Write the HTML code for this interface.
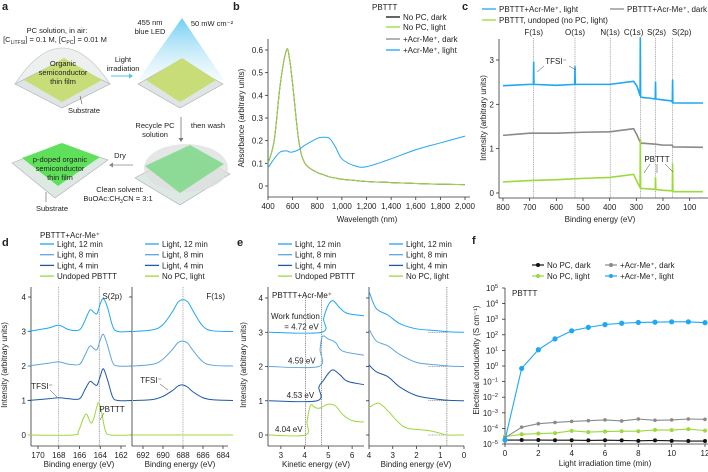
<!DOCTYPE html>
<html><head><meta charset="utf-8"><style>
html,body{margin:0;padding:0;background:#fff;}
svg{display:block;font-family:"Liberation Sans",Arial,sans-serif;}
text{fill:#222;}
</style></head><body>
<svg id="fig" width="708" height="472" viewBox="0 0 708 472" xmlns="http://www.w3.org/2000/svg">
<defs>
<linearGradient id="cone" x1="0" y1="0" x2="0" y2="1"><stop offset="0" stop-color="#5fc8f0" stop-opacity="0.9"/><stop offset="1" stop-color="#d8f0fb" stop-opacity="0.3"/></linearGradient>
</defs>
<g font-size="7.5" text-anchor="middle">
<text x="2" y="10" font-size="11" font-weight="bold" text-anchor="start">a</text>
<path d="M15,84 Q62,12 110,84 Z" fill="#eef0ef" stroke="#c8cbc9" stroke-width="0.8"/>
<polygon points="15,84 62,60 110,84 62,108" fill="#dfe5e2" stroke="#aab" stroke-width="0.6"/>
<polygon points="24,80 64,58 102,80 62,102" fill="#c8dc78"/>
<text x="57" y="33">PC solution, in air:</text>
<text x="55" y="42">[C<tspan font-size="5" dy="2">LiTFSI</tspan><tspan dy="-2">] = 0.1 M, [C</tspan><tspan font-size="5" dy="2">PC</tspan><tspan dy="-2">] = 0.01 M</tspan></text>
<text x="63" y="66">Organic</text>
<text x="63" y="75">semiconductor</text>
<text x="63" y="84">thin film</text>
<line x1="80" y1="96" x2="82" y2="104" stroke="#555" stroke-width="0.6"/>
<text x="84" y="113">Substrate</text>
<text x="123" y="62">Light</text>
<text x="123" y="71">irradiation</text>
<line x1="111" y1="76" x2="129" y2="76" stroke="#4cc3ea" stroke-width="1"/>
<polygon points="129,73.5 133,76 129,78.5" fill="#4cc3ea"/>
<polygon points="182,18 138,80 224,80" fill="url(#cone)"/>
<polygon points="138,84 180,60 223,84 180,108" fill="#dfe5e2" stroke="#aab" stroke-width="0.6"/>
<polygon points="146,80 182,58 216,80 180,102" fill="#c8dc78"/>
<text x="150" y="25">455 nm</text>
<text x="150" y="34">blue LED</text>
<text x="212" y="26">50 mW cm⁻²</text>
<text x="155" y="128">Recycle PC</text>
<text x="155" y="137">solution</text>
<text x="208" y="128">then wash</text>
<line x1="181" y1="117" x2="181" y2="138" stroke="#777" stroke-width="0.8"/>
<polygon points="178.5,138 181,142 183.5,138" fill="#777"/>
<polygon points="135,178 185,150 230,174 180,205" fill="#dfe9e4" stroke="#aab" stroke-width="0.6"/>
<ellipse cx="186" cy="168" rx="42" ry="24" fill="#dcdedd" opacity="0.75"/>
<polygon points="145,166 190,145 224,164 180,193" fill="#7fd88a" opacity="0.85"/>
<text x="120" y="158">Dry</text>
<line x1="133" y1="165" x2="113" y2="165" stroke="#888" stroke-width="0.8"/>
<polygon points="113,162.5 109,165 113,167.5" fill="#888"/>
<polygon points="12,163 60,144 108,160 55,198" fill="#dfe9e4" stroke="#aab" stroke-width="0.6"/>
<polygon points="22,158 62,143 100,157 58,186" fill="#5fe05a"/>
<text x="60" y="162">p-doped organic</text>
<text x="60" y="171">semiconductor</text>
<text x="60" y="180">thin film</text>
<line x1="46" y1="192" x2="46" y2="202" stroke="#555" stroke-width="0.6"/>
<text x="52" y="211">Substrate</text>
<text x="120" y="192">Clean solvent:</text>
<text x="118" y="201">BuOAc:CH<tspan font-size="5" dy="2">3</tspan><tspan dy="-2">CN = 3:1</tspan></text>
</g>
<g id="charts"></g>
</svg>
<script>
// ---------- Panel b data ----------
const bWave = [400,450,500,550,575,600,650,700,800,850,900,950,1000,1100,1200,1400,1600,1800,2000];
const bNoPC = [0.1,0.2,0.45,0.6,0.56,0.45,0.2,0.1,0.06,0.05,0.04,0.035,0.03,0.025,0.02,0.015,0.011,0.008,0.006];
const bAcrLight = [0.08,0.12,0.15,0.155,0.15,0.15,0.16,0.18,0.21,0.215,0.21,0.17,0.12,0.09,0.085,0.12,0.16,0.19,0.22];
const bYTicks = [0,0.1,0.2,0.3,0.4,0.5,0.6];
const bXTicks = [400,600,800,1000,1200,1400,1600,1800,2000];
const bXLabels = ["400","600","800","1,000","1,200","1,400","1,600","1,800","2,000"];
// ---------- Panel c data ----------
const cBlueX = [800,700,686,685,684,600,531,530,529,400,310,297,286,285,284,283,270,250,229,228,227,200,170,165,164,163,150,50];
const cBlueY = [2.42,2.45,2.45,2.95,2.45,2.43,2.45,2.85,2.45,2.45,2.52,2.4,2.2,3.5,2.2,2.16,2.15,2.14,2.12,2.5,2.12,2.1,2.08,2.05,2.55,2.03,2.03,2.03];
const cGrayX = [800,700,600,500,400,310,297,286,285,284,270,228,200,165,164,163,50];
const cGrayY = [1.3,1.35,1.35,1.37,1.38,1.45,1.3,1.15,1.2,1.12,1.12,1.1,1.08,1.08,1.05,1.04,1.03];
const cGreenX = [800,700,600,500,400,310,297,286,285,284,283,270,229,228,227,200,165,164,163,50];
const cGreenY = [0.25,0.28,0.3,0.33,0.35,0.42,0.25,0.12,1.2,0.12,0.1,0.1,0.08,0.35,0.08,0.06,0.05,0.65,0.03,0.03];
const cPeakE = [685,530,398,284,228,164];
const cPeakLabels = ["F(1s)","O(1s)","N(1s)","C(1s)","S(2s)","S(2p)"];
const cXTicks = [800,700,600,500,400,300,200,100];
const cYTicks = [0,1,2,3];
// ---------- Panel d data ----------
const dSX = [171,169,168,167,166,165.5,165,164.6,164.3,164,163.7,163.3,162.8,162.3,161];
const dS12 = [3.0,3.1,3.18,3.05,3.05,3.3,3.62,3.55,3.52,3.8,3.95,3.7,3.15,3.0,3.0];
const dS8 = [2.0,2.08,2.12,2.05,2.05,2.3,2.58,2.5,2.48,2.75,2.92,2.6,2.1,2.0,2.0];
const dS4 = [1.0,1.05,1.08,1.05,1.05,1.3,1.55,1.48,1.45,1.7,1.92,1.6,1.1,1.0,1.0];
const dSUndX = [171,166.6,166.1,165.6,165.3,164.9,164.6,164.2,163.9,163.5,163.0,161];
const dSUnd = [0,0,0.12,0.5,0.6,0.35,0.5,0.93,0.7,0.12,0,0];
const dFX = [693,691,690,689,688.5,688,687.5,687,686,685,683];
const dF12 = [3.0,3.05,3.2,3.6,3.85,3.92,3.85,3.6,3.15,3.02,3.0];
const dF8 = [2.0,2.05,2.2,2.5,2.68,2.72,2.65,2.45,2.12,2.02,2.0];
const dF4 = [1.0,1.03,1.12,1.3,1.42,1.45,1.38,1.25,1.08,1.02,1.0];
const dFUnd = [0,0,0,0,0,0,0,0,0,0,0];
const dSXTicks = [170,168,166,164,162];
const dFXTicks = [692,690,688,686,684];
const dYTicks = [0,1,2,3,4];
// ---------- Panel e data ----------
const eK12X = [2.5,4.72,4.8,5.0,5.2,5.5,5.8,6.5];
const eK12 = [3,3,3.4,3.8,3.92,3.7,3.55,3.48];
const eK8X = [2.5,4.59,4.65,4.75,5.0,5.3,5.6,6.5];
const eK8 = [2,2,2.5,2.88,2.8,2.7,2.45,2.33];
const eK4X = [2.5,4.53,4.6,4.8,5.0,5.2,5.5,5.8,6.5];
const eK4 = [1,1,1.4,1.6,1.8,1.9,1.75,1.57,1.47];
const eKUX = [2.5,4.04,4.1,4.25,4.4,4.6,5.0,5.3,5.6,6.0,6.5];
const eKU = [0,0,0.4,0.87,0.82,0.78,0.9,0.85,0.6,0.42,0.38];
const eBX = [4,3.7,3.2,2.7,2.0,1.2,0.6,0];
const eB12 = [4.2,3.7,3.5,3.25,3.1,3.05,3.01,3.0];
const eB8 = [3.1,2.75,2.6,2.35,2.12,2.05,2.01,2.0];
const eB4 = [2.05,1.85,1.7,1.4,1.15,1.05,1.01,1.0];
const eBUX = [4,3.6,3.2,2.8,2.4,1.5,1.0,0.7,0];
const eBU = [0.8,0.93,0.7,0.4,0.2,0.13,0.05,0,0];
const eWork = [4.04,4.53,4.59,4.72];
const eWorkLabels = ["4.04 eV","4.53 eV","4.59 eV","= 4.72 eV"];
const eKTicks = [3,4,5,6];
const eBTicks = [4,3,2,1,0];
// ---------- Panel f data ----------
const fTime = [0,1,2,3,4,5,6,7,8,9,10,11,12];
const fNoPCDark = [1.8e-5,1.8e-5,1.8e-5,1.75e-5,1.75e-5,1.7e-5,1.75e-5,1.7e-5,1.6e-5,1.7e-5,1.6e-5,1.55e-5,1.55e-5];
const fNoPCLight = [3e-5,4.2e-5,4.7e-5,5e-5,7e-5,5.8e-5,6.3e-5,6.6e-5,6.6e-5,8e-5,7.8e-5,9e-5,7.2e-5];
const fAcrDark = [2.5e-5,1.2e-4,2e-4,2.4e-4,2.8e-4,3.1e-4,3.5e-4,3e-4,4e-4,3.3e-4,3.5e-4,4e-4,3.8e-4];
const fAcrLight = [1.8e-5,0.7,11,55,180,300,450,550,620,640,680,680,600];
const fXTicks = [0,2,4,6,8,10,12];
const fYExp = [-5,-4,-3,-2,-1,0,1,2,3,4,5];

const NS = "http://www.w3.org/2000/svg";
const root = document.getElementById('charts');
const BLUE="#1ea7f5", MID="#5da6de", DARK="#1f58a6", GREEN="#9bd93c", GRAY="#8a8a8a";
function lin(d0,d1,r0,r1){return v=>r0+(v-d0)*(r1-r0)/(d1-d0);}
function add(tag, attrs, name, txt){
  const el=document.createElementNS(NS,tag);
  for(const k in attrs) el.setAttribute(k,attrs[k]);
  
  
  if(txt!==undefined) el.textContent=txt;
  root.appendChild(el);
  return el;
}
function smooth(pts){
  let d="M"+pts[0][0].toFixed(2)+","+pts[0][1].toFixed(2);
  for(let i=0;i<pts.length-1;i++){
    const p0=pts[i-1]||pts[i],p1=pts[i],p2=pts[i+1],p3=pts[i+2]||p2;
    const c1=[p1[0]+(p2[0]-p0[0])/6,p1[1]+(p2[1]-p0[1])/6];
    const c2=[p2[0]-(p3[0]-p1[0])/6,p2[1]-(p3[1]-p1[1])/6];
    d+="C"+c1[0].toFixed(2)+","+c1[1].toFixed(2)+" "+c2[0].toFixed(2)+","+c2[1].toFixed(2)+" "+p2[0].toFixed(2)+","+p2[1].toFixed(2);
  }
  return d;
}
function series(xs,ys,sx,sy,color,name,w,sm){
  const pts=xs.map((x,i)=>[sx(x),sy(ys[i])]);
  const d= sm? smooth(pts) : "M"+pts.map(p=>p[0].toFixed(2)+","+p[1].toFixed(2)).join("L");
  return add('path',{d:d,fill:'none',stroke:color,'stroke-width':w||1,'stroke-linejoin':'round'},name);
}
function txt(x,y,s,name,o){
  o=o||{};
  const a={x:x,y:y,'font-size':o.fs||8,'text-anchor':o.anchor||'middle'};
  if(o.rot) a.transform='rotate(-90 '+x+' '+y+')';
  if(o.bold) a['font-weight']='bold';
  return add('text',a,name,s);
}
function line(x1,y1,x2,y2,color,name,w,dash){
  const a={x1:x1,y1:y1,x2:x2,y2:y2,stroke:color,'stroke-width':w||0.8};
  if(dash) a['stroke-dasharray']=dash;
  return add('line',a,name);
}
function yAxis(x,yTop,yBot,ticks,sy,labels,name){
  line(x,yTop,x,yBot,'#333',name+'-line');
  ticks.forEach((t,i)=>{line(x-3,sy(t),x,sy(t),'#333',name+'-tick');
    if(labels) txt(x-5,sy(t)+3,labels[i],name+'-tick-label',{anchor:'end'});});
}
function xAxis(y,x0,x1,ticks,sx,labels,name){
  line(x0,y,x1,y,'#333',name+'-line');
  ticks.forEach((t,i)=>{line(sx(t),y,sx(t),y+3,'#333',name+'-tick');
    if(labels) txt(sx(t),y+12,labels[i],name+'-tick-label');});
}
function legendLine(x,y,color,label,name,w){
  line(x,y,x+14,y,color,name+'-swatch',w||1.3);
  txt(x+17,y+3,label,name+'-label',{anchor:'start'});
}

// ===== Panel b =====
{
  const sx=lin(400,2000,268,465), sy=lin(0,0.6,186,50);
  txt(233,10,'b','panel-label-b',{fs:11,bold:1,anchor:'start'});
  yAxis(268,39,197,bYTicks,sy,bYTicks.map(String),'b-y-axis');
  xAxis(197,268,470,bXTicks,sx,bXLabels,'b-x-axis');
  txt(367,222,'Wavelength (nm)','b-x-axis-title');
  txt(244,118,'Absorbance (arbitrary units)','b-y-axis-title',{rot:1});
  series(bWave,bNoPC,sx,sy,'#222','b-line-no-pc-dark',1,1);
  series(bWave,bNoPC,sx,sy,GRAY,'b-line-acr-dark',1,1);
  series(bWave,bNoPC,sx,sy,GREEN,'b-line-no-pc-light',0.9,1);
  series(bWave,bAcrLight,sx,sy,BLUE,'b-line-acr-light',1,1);
  txt(372,10,'PBTTT','b-legend-title',{anchor:'start'});
  legendLine(386,17,'#111','No PC, dark','b-legend-no-pc-dark');
  legendLine(386,27,GREEN,'No PC, light','b-legend-no-pc-light');
  legendLine(386,39,GRAY,'+Acr-Me⁺, dark','b-legend-acr-dark');
  legendLine(386,50,BLUE,'+Acr-Me⁺, light','b-legend-acr-light');
}
// ===== Panel c =====
{
  const sx=lin(800,50,503,703), sy=lin(0,3,193,60);
  const labelShift=[0,0,0,-7,1,9];
  txt(462,10,'c','panel-label-c',{fs:11,bold:1,anchor:'start'});
  cPeakE.forEach((e,i)=>{line(sx(e),38,sx(e),198,'#777','c-peak-line',0.6,'1,0.8');
    txt(sx(e)+labelShift[i],35,cPeakLabels[i],'c-peak-label');});
  yAxis(499,39,198,cYTicks,sy,cYTicks.map(String),'c-y-axis');
  xAxis(198,499,708,cXTicks,sx,cXTicks.map(String),'c-x-axis');
  txt(600,222,'Binding energy (eV)','c-x-axis-title');
  txt(486,118,'Intensity (arbitrary units)','c-y-axis-title',{rot:1});
  series(cGrayX,cGrayY,sx,sy,GRAY,'c-line-acr-dark',1.6);
  series(cGreenX,cGreenY,sx,sy,GREEN,'c-line-undoped',1.6);
  series(cBlueX,cBlueY,sx,sy,BLUE,'c-line-acr-light',1.6);
  txt(556,64,'TFSI⁻','c-tfsi-label');
  line(544,66,537,72,'#444','c-tfsi-leader',0.5);
  line(569,66,576,70,'#444','c-tfsi-leader',0.5);
  txt(657,162,'PBTTT','c-pbttt-label');
  line(650,164,644,173,'#444','c-pbttt-leader',0.5);
  line(657,164,657,173,'#444','c-pbttt-leader',0.5);
  line(665,164,673,172,'#444','c-pbttt-leader',0.5);
  legendLine(482,9,BLUE,'PBTTT+Acr-Me⁺, light','c-legend-acr-light');
  legendLine(610,9,GRAY,'PBTTT+Acr-Me⁺, dark','c-legend-acr-dark');
  legendLine(482,20,GREEN,'PBTTT, undoped (no PC, light)','c-legend-undoped');
}
// ===== Panel d =====
{
  const sxS=lin(170,162,38,121), sxF=lin(692,684,143,223), sy=lin(0,4,435,297);
  txt(2,246,'d','panel-label-d',{fs:11,bold:1,anchor:'start'});
  txt(40,238,'PBTTT+Acr-Me⁺','d-legend-title',{anchor:'start'});
  const leg=[[BLUE,'Light, 12 min'],[MID,'Light, 8 min'],[DARK,'Light, 4 min'],[GREEN,'Undoped PBTTT']];
  const legR=[[BLUE,'Light, 12 min'],[MID,'Light, 8 min'],[DARK,'Light, 4 min'],[GREEN,'No PC, light']];
  leg.forEach((l,i)=>legendLine(40,244+i*10.7,l[0],l[1],'d-legend-entry'));
  legR.forEach((l,i)=>legendLine(145,244+i*10.7,l[0],l[1],'d-legend-entry-right'));
  line(sxS(168),287,sxS(168),446,'#777','d-ref-line',0.6,'1,0.8');
  line(sxS(164.1),287,sxS(164.1),446,'#555','d-ref-line',0.6,'1,0.8');
  line(sxF(688),287,sxF(688),446,'#777','d-ref-line',0.6,'1,0.8');
  yAxis(31,287,446,dYTicks,sy,dYTicks.map(String),'d-y-axis');
  xAxis(446,31,126,dSXTicks,sxS,dSXTicks.map(String),'d-x-axis-s2p');
  yAxis(132,287,446,dYTicks,sy,null,'d-y-axis-right');
  xAxis(446,132,228,dFXTicks,sxF,dFXTicks.map(String),'d-x-axis-f1s');
  txt(79,467,'Binding energy (eV)','d-x-axis-title');
  txt(180,467,'Binding energy (eV)','d-x-axis-title-right');
  txt(7,365,'Intensity (arbitrary units)','d-y-axis-title',{rot:1});
  series(dSX,dS12,sxS,sy,BLUE,'d-s2p-12min',1,1);
  series(dSX,dS8,sxS,sy,MID,'d-s2p-8min',1,1);
  series(dSX,dS4,sxS,sy,DARK,'d-s2p-4min',1,1);
  series(dSUndX,dSUnd,sxS,sy,GREEN,'d-s2p-undoped',1,1);
  series(dFX,dF12,sxF,sy,BLUE,'d-f1s-12min',1,1);
  series(dFX,dF8,sxF,sy,MID,'d-f1s-8min',1,1);
  series(dFX,dF4,sxF,sy,DARK,'d-f1s-4min',1,1);
  series(dFX,dFUnd,sxF,sy,GREEN,'d-f1s-no-pc',1,1);
  txt(122,299,'S(2p)','d-s2p-label',{anchor:'end'});
  txt(225,299,'F(1s)','d-f1s-label',{anchor:'end'});
  txt(42,389,'TFSI⁻','d-tfsi-label');
  line(50,390,57,397,'#444','d-tfsi-leader',0.5);
  txt(151,383,'TFSI⁻','d-tfsi-label-right');
  line(160,384,168,390,'#444','d-tfsi-leader',0.5);
  txt(112,412,'PBTTT','d-pbttt-label');
  line(104,413,100,420,'#444','d-pbttt-leader',0.5);
}
// ===== Panel e =====
{
  const sxK=lin(2.5,6.5,269,364), sxB=lin(4,0,369,464), sy=lin(0,4,435,298);
  txt(237,246,'e','panel-label-e',{fs:11,bold:1,anchor:'start'});
  const leg=[[BLUE,'Light, 12 min'],[MID,'Light, 8 min'],[DARK,'Light, 4 min'],[GREEN,'Undoped PBTTT']];
  const legR=[[BLUE,'Light, 12 min'],[MID,'Light, 8 min'],[DARK,'Light, 4 min'],[GREEN,'No PC, light']];
  leg.forEach((l,i)=>legendLine(278,244+i*10.7,l[0],l[1],'e-legend-entry'));
  legR.forEach((l,i)=>legendLine(389,244+i*10.7,l[0],l[1],'e-legend-entry-right'));
  line(sxK(4.04),sy(4.1),sxK(4.04),446,'#444','e-ref-line',0.6,'1,0.8');
  line(sxK(4.72),sy(4.1),sxK(4.72),446,'#444','e-ref-line',0.6,'1,0.8');
  line(sxB(0.72),287,sxB(0.72),446,'#444','e-ref-line-right',0.6,'1,0.8');
  [0,1,2,3].forEach(b=>line(sxB(1.5),sy(b),sxB(0.72),sy(b),'#444','e-baseline-dots',0.6,'1,0.8'));
  yAxis(268,287,446,dYTicks,sy,dYTicks.map(String),'e-y-axis');
  xAxis(446,268,364,eKTicks,sxK,eKTicks.map(String),'e-x-axis-kinetic');
  yAxis(369,287,446,dYTicks,sy,null,'e-y-axis-right');
  xAxis(446,369,464,eBTicks,sxB,eBTicks.map(String),'e-x-axis-binding');
  txt(316,467,'Kinetic energy (eV)','e-x-axis-title');
  txt(416,467,'Binding energy (eV)','e-x-axis-title-right');
  txt(246,365,'Intensity (arbitrary units)','e-y-axis-title',{rot:1});
  series(eK12X,eK12,sxK,sy,BLUE,'e-ke-12min',1,1);
  series(eK8X,eK8,sxK,sy,MID,'e-ke-8min',1,1);
  series(eK4X,eK4,sxK,sy,DARK,'e-ke-4min',1,1);
  series(eKUX,eKU,sxK,sy,GREEN,'e-ke-undoped',1,1);
  series(eBX,eB12,sxB,sy,BLUE,'e-be-12min',1,1);
  series(eBX,eB8,sxB,sy,MID,'e-be-8min',1,1);
  series(eBX,eB4,sxB,sy,DARK,'e-be-4min',1,1);
  series(eBUX,eBU,sxB,sy,GREEN,'e-be-no-pc',1,1);
  txt(272,298,'PBTTT+Acr-Me⁺','e-sample-label',{anchor:'start'});
  txt(271,319,'Work function','e-work-function-label',{anchor:'start'});
  const wy=[0,1,2,3];
  eWork.forEach((w,i)=>txt(sxK(w)-3,sy(wy[i])-3,eWorkLabels[i],'e-work-value',{anchor:'end'}));
}
// ===== Panel f =====
{
  const sx=lin(0,12,505,705), sy=v=>444-(Math.log10(v)+5)*15.6;
  txt(472,244,'f','panel-label-f',{fs:11,bold:1,anchor:'start'});
  line(505,288,505,444,'#333','f-y-axis-line');
  fYExp.forEach(e=>{const y=444-(e+5)*15.6; line(502,y,505,y,'#333','f-y-tick');
    const t=txt(498,y+3,'10','f-y-tick-label',{anchor:'end'});
    const ts=document.createElementNS(NS,'tspan');
    
    
    ts.setAttribute('font-size','5.5');ts.setAttribute('dy','-3');
    ts.textContent=String(e).replace('-','−');t.appendChild(ts);});
  xAxis(444,505,708,fXTicks,sx,fXTicks.map(String),'f-x-axis');
  txt(605,466,'Light irradiation time (min)','f-x-axis-title');
  txt(479,360,'Electrical conductivity (S cm⁻¹)','f-y-axis-title',{rot:1});
  txt(512,296,'PBTTT','f-sample-label',{anchor:'start'});
  const sets=[[fNoPCDark,'#111','f-series-no-pc-dark',2],[fNoPCLight,GREEN,'f-series-no-pc-light',2],[fAcrDark,GRAY,'f-series-acr-dark',1.8],[fAcrLight,BLUE,'f-series-acr-light',2.6]];
  sets.forEach(s=>{series(fTime,s[0],sx,sy,s[1],s[2]+'-line',1.1);
    s[0].forEach((v,i)=>add('circle',{cx:sx(fTime[i]),cy:sy(v),r:s[3],fill:s[1]},s[2]+'-point'));});
  const lg=[[532,265,'#111','No PC, dark'],[532,276,GREEN,'No PC, light'],[605,265,GRAY,'+Acr-Me⁺, dark'],[605,276,BLUE,'+Acr-Me⁺, light']];
  lg.forEach(l=>{line(l[0],l[1],l[0]+12,l[1],l[2],'f-legend-swatch',1.2);
    add('circle',{cx:l[0]+6,cy:l[1],r:2,fill:l[2]},'f-legend-marker');
    txt(l[0]+15,l[1]+3,l[3],'f-legend-label',{anchor:'start'});});
}
</script>
</body></html>
